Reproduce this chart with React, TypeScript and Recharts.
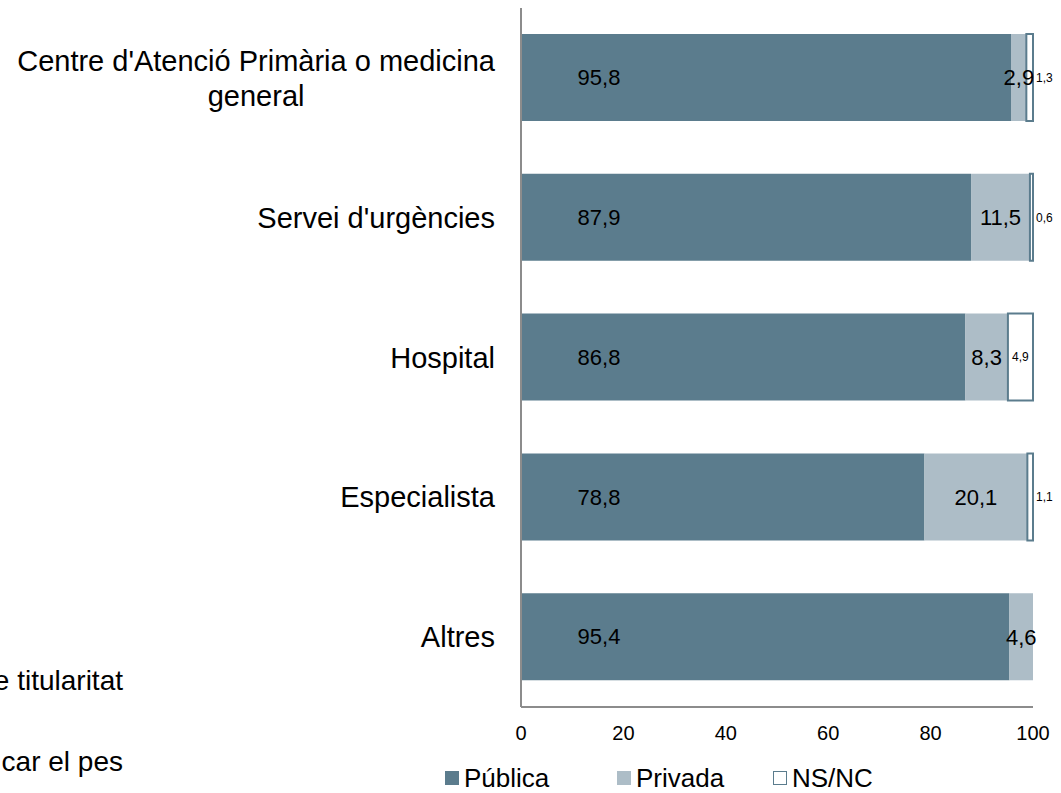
import { BarChart, Bar, XAxis, YAxis, Legend, LabelList } from 'recharts'

const categories = [
  "Centre d'Atenció Primària o medicina general",
  "Servei d'urgències",
  'Hospital',
  'Especialista',
  'Altres',
]
const publica = [95.8, 87.9, 86.8, 78.8, 95.4]
const privada = [2.9, 11.5, 8.3, 20.1, 4.6]
const nsnc: (number | null)[] = [1.3, 0.6, 4.9, 1.1, null]
const xTicks = [0, 20, 40, 60, 80, 100]
const seriesNames = ['Pública', 'Privada', 'NS/NC']
const fragments = ['e titularitat', 'car el pes']

const FONT = '"Liberation Sans", Arial, sans-serif'
const DARK = '#5b7c8d'
const LIGHT = '#adbdc7'
const AXIS = '#8c8c8c'
const CAT_SIZE = 29

const data = categories.map((name, i) => ({
  name,
  publica: publica[i],
  privada: privada[i],
  nsnc: nsnc[i],
}))

const fmt = (v: unknown) => (v == null ? '' : String(v).replace('.', ','))

let ctx: CanvasRenderingContext2D | null = null
function measure(text: string, size: number) {
  if (!ctx) ctx = document.createElement('canvas').getContext('2d')
  if (!ctx) return text.length * size * 0.5
  ctx.font = `${size}px ${FONT}`
  return ctx.measureText(text).width
}

function wrap(text: string, size: number, max: number) {
  const words = text.split(' ')
  const lines: string[] = []
  let cur = ''
  for (const w of words) {
    const next = cur ? cur + ' ' + w : w
    if (cur && measure(next, size) > max) {
      lines.push(cur)
      cur = w
    } else cur = next
  }
  if (cur) lines.push(cur)
  return lines
}

function CategoryTick({ x, y, payload }: any) {
  const lines = wrap(payload.value, CAT_SIZE, 495)
  if (lines.length === 1) {
    return (
      <text x={x} y={y} dy="0.35em" textAnchor="end" fontSize={CAT_SIZE} fill="#000" fontFamily={FONT}>
        {payload.value}
      </text>
    )
  }
  const w = Math.max(...lines.map((l) => measure(l, CAT_SIZE)))
  const cx = x - w / 2
  const lh = 35
  return (
    <text fontSize={CAT_SIZE} fill="#000" fontFamily={FONT} textAnchor="middle">
      {lines.map((l, i) => (
        <tspan key={i} x={cx} y={y + (i - (lines.length - 1) / 2) * lh} dy="0.35em">
          {l}
        </tspan>
      ))}
    </text>
  )
}

// the big series' labels sit near the start of the bar in the original
function PublicaLabel({ x, y, height, value }: any) {
  return (
    <text x={x + 78} y={y + height / 2} dy="0.35em" textAnchor="middle" fontSize={22} fill="#000" fontFamily={FONT}>
      {fmt(value)}
    </text>
  )
}

function SmallLabel({ x, y, width, height, value }: any) {
  if (value == null) return null
  const narrow = width < 14
  return (
    <text
      x={narrow ? x + width + 3 : x + width / 2}
      y={y + height / 2}
      dy="0.35em"
      textAnchor={narrow ? 'start' : 'middle'}
      fontSize={12}
      fill="#000"
      fontFamily={FONT}
    >
      {fmt(value)}
    </text>
  )
}

function LegendBox() {
  const swatches = [
    { fill: DARK, stroke: DARK },
    { fill: LIGHT, stroke: LIGHT },
    { fill: '#fff', stroke: DARK },
  ]
  const widths = [172, 156, 150]
  return (
    <div
      style={{
        height: 46,
        boxSizing: 'border-box',
        paddingTop: 16,
        paddingLeft: 445,
        display: 'flex',
        alignItems: 'center',
        fontFamily: FONT,
        fontSize: 26,
        color: '#000',
      }}
    >
      {seriesNames.map((n, i) => (
        <div key={n} style={{ width: widths[i], display: 'flex', alignItems: 'center' }}>
          <span
            style={{
              width: 14,
              height: 14,
              boxSizing: 'border-box',
              background: swatches[i].fill,
              border: `1.5px solid ${swatches[i].stroke}`,
              marginRight: 5,
            }}
          />
          <span>{n}</span>
        </div>
      ))}
    </div>
  )
}

export default function App() {
  return (
    <div style={{ position: 'absolute', left: 0, top: 0, width: 1061, height: 793, background: '#fff' }}>
      <svg width={130} height={793} style={{ position: 'absolute', left: 0, top: 0 }}>
        <text x={123} y={690} textAnchor="end" fontSize={28} fill="#000" fontFamily={FONT}>
          {fragments[0]}
        </text>
        <text x={123} y={771} textAnchor="end" fontSize={28} fill="#000" fontFamily={FONT}>
          {fragments[1]}
        </text>
      </svg>
      <div style={{ position: 'absolute', left: 0, top: 0 }}>
        <BarChart
          width={1061}
          height={793}
          data={data}
          layout="vertical"
          margin={{ top: 8, right: 28, left: 0, bottom: 0 }}
        >
          <XAxis
            type="number"
            domain={[0, 100]}
            ticks={xTicks}
            tickLine={false}
            tickSize={0}
            tickMargin={19}
            height={40}
            axisLine={{ stroke: AXIS, strokeWidth: 2 }}
            tick={{ fontSize: 20, fill: '#000', fontFamily: FONT }}
          />
          <YAxis
            type="category"
            dataKey="name"
            width={521}
            tickLine={false}
            tickSize={0}
            tickMargin={26}
            axisLine={{ stroke: AXIS, strokeWidth: 2 }}
            tick={<CategoryTick />}
          />
          <Legend verticalAlign="bottom" height={46} content={() => <LegendBox />} />
          <Bar dataKey="publica" name={seriesNames[0]} stackId="a" fill={DARK} barSize={87} isAnimationActive={false}>
            <LabelList dataKey="publica" content={<PublicaLabel />} />
          </Bar>
          <Bar dataKey="privada" name={seriesNames[1]} stackId="a" fill={LIGHT} barSize={87} isAnimationActive={false}>
            <LabelList
              dataKey="privada"
              position="center"
              formatter={fmt}
              style={{ fontSize: 22, fill: '#000', fontFamily: FONT }}
            />
          </Bar>
          <Bar
            dataKey="nsnc"
            name={seriesNames[2]}
            stackId="a"
            fill="#fff"
            stroke={DARK}
            strokeWidth={2}
            barSize={87}
            isAnimationActive={false}
          >
            <LabelList dataKey="nsnc" content={<SmallLabel />} />
          </Bar>
        </BarChart>
      </div>
    </div>
  )
}
